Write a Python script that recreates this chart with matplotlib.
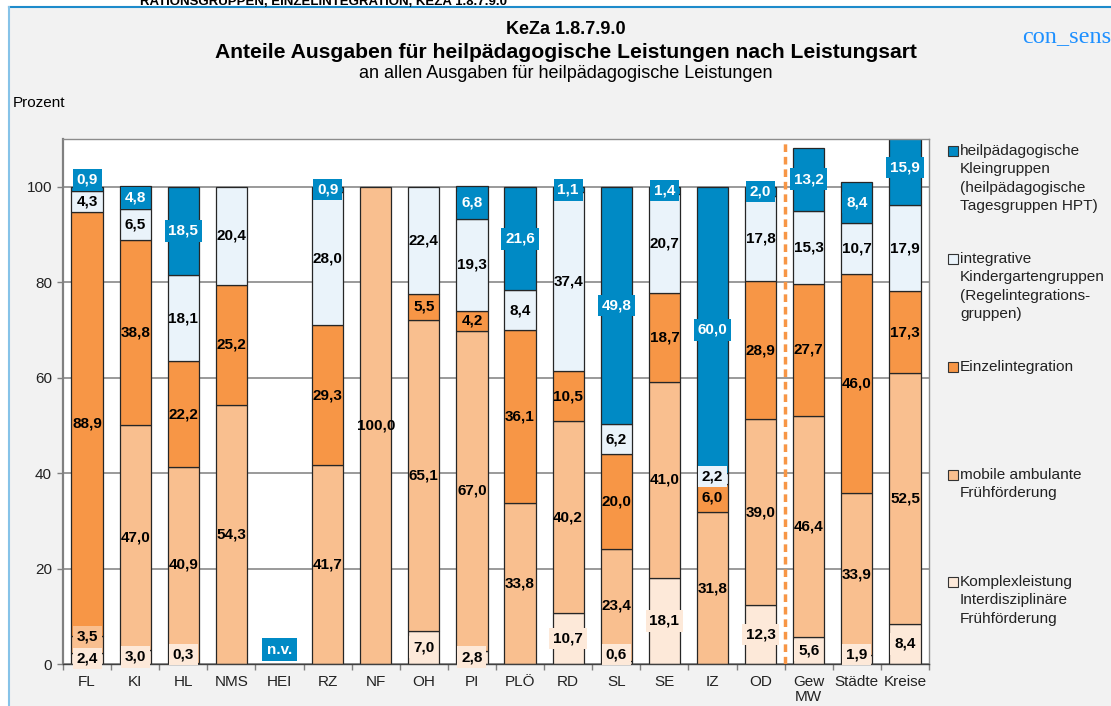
import matplotlib
matplotlib.use('Agg')
import matplotlib.pyplot as plt
from matplotlib.patches import Rectangle
from matplotlib.lines import Line2D
import numpy as np

plt.rcParams['font.family'] = ['Liberation Sans', 'DejaVu Sans']

categories = ['FL', 'KI', 'HL', 'NMS', 'HEI', 'RZ', 'NF', 'OH', 'PI', 'PLÖ', 'RD',
              'SL', 'SE', 'IZ', 'OD', 'Gew\nMW', 'Städte', 'Kreise']
komplex = [2.4, 3.0, 0.3, 0, 0, 0, 0, 7.0, 2.8, 0, 10.7, 0.6, 18.1, 0, 12.3, 5.6, 1.9, 8.4]
mobile = [3.5, 47.0, 40.9, 54.3, 0, 41.7, 100.0, 65.1, 67.0, 33.8, 40.2, 23.4, 41.0, 31.8, 39.0, 46.4, 33.9, 52.5]
einzel = [88.9, 38.8, 22.2, 25.2, 0, 29.3, 0, 5.5, 4.2, 36.1, 10.5, 20.0, 18.7, 6.0, 28.9, 27.7, 46.0, 17.3]
integrativ = [4.3, 6.5, 18.1, 20.4, 0, 28.0, 0, 22.4, 19.3, 8.4, 37.4, 6.2, 20.7, 2.2, 17.8, 15.3, 10.7, 17.9]
kleingruppen = [0.9, 4.8, 18.5, 0, 0, 0.9, 0, 0, 6.8, 21.6, 1.1, 49.8, 1.4, 60.0, 2.0, 13.2, 8.4, 15.9]
not_available = ['HEI']
series_names = ['Komplexleistung\nInterdisziplinäre\nFrühförderung',
                'mobile ambulante\nFrühförderung',
                'Einzelintegration',
                'integrative\nKindergartengruppen\n(Regelintegrations-\ngruppen)',
                'heilpädagogische\nKleingruppen\n(heilpädagogische\nTagesgruppen HPT)']
y_ticks = [0, 20, 40, 60, 80, 100]

series = [komplex, mobile, einzel, integrativ, kleingruppen]
colors = ['#FDE9D9', '#F9BF8F', '#F79646', '#EAF3FA', '#008AC5']
text_colors = ['black', 'black', 'black', 'black', 'white']
boxed = [True, False, False, False, True]

W, H = 1111, 706
fig = plt.figure(figsize=(W / 100, H / 100), dpi=100, facecolor='white')

# panel background and border
fig.patches.append(Rectangle((9 / W, 0), 1 - 9 / W, 1 - 7 / H, transform=fig.transFigure,
                             facecolor='#F2F2F2', edgecolor='none', zorder=-10))
fig.add_artist(Line2D([9 / W, 1], [1 - 7 / H, 1 - 7 / H], transform=fig.transFigure,
                      color='#1E8BCB', lw=1.5, zorder=-5))
fig.add_artist(Line2D([9 / W, 9 / W], [0, 1 - 7 / H], transform=fig.transFigure,
                      color='#86C3E8', lw=1.5, zorder=-5))

fig.text(140 / W, 1 - 5 / H, 'RATIONSGRUPPEN, EINZELINTEGRATION, KEZA 1.8.7.9.0',
         fontsize=9.5, weight='bold', ha='left', va='baseline')

left, right, top, bottom = 63, 929, 139, 664
ax = fig.add_axes([left / W, (H - bottom) / H, (right - left) / W, (bottom - top) / H])
ax.set_facecolor('white')

x = np.arange(len(categories))
bw = 0.65
bottoms = np.zeros(len(categories))
label_info = [[] for _ in categories]
for s, vals in enumerate(series):
    vals = np.array(vals, dtype=float)
    mask = vals > 0
    ax.bar(x[mask], vals[mask], bottom=bottoms[mask], width=bw, color=colors[s],
           edgecolor='#262626', linewidth=0.9, zorder=2)
    for i in np.where(mask)[0]:
        label_info[i].append((bottoms[i], vals[i], s))
    bottoms = bottoms + vals

min_gap = 4.5
for i, items in enumerate(label_info):
    ys = []
    moved = []
    for (b, v, s) in items:
        yc = b + v / 2
        mv = False
        if b == 0 and v < 2:
            yc = 2.0
        if ys and yc - ys[-1] < min_gap:
            yc = ys[-1] + min_gap
            mv = True
        ys.append(yc)
        moved.append(mv)
    for (b, v, s), yc, mv in zip(items, ys, moved):
        kw = {}
        if boxed[s] or mv:
            kw['bbox'] = dict(boxstyle='square,pad=0.25', fc=colors[s], ec='none')
        ax.text(x[i], yc, f'{v:.1f}'.replace('.', ','), ha='center', va='center',
                fontsize=11, weight='bold', color=text_colors[s], zorder=5, **kw)

for name in not_available:
    i = categories.index(name)
    ax.text(x[i], 3.0, 'n.v.', ha='center', va='center', fontsize=11, weight='bold',
            color='white', zorder=5,
            bbox=dict(boxstyle='square,pad=0.3', fc=colors[4], ec='none'))

ax.axvline(14.5, color='#F79646', lw=2.5, ls=(0, (2.2, 1.4)), zorder=3)

ax.set_xlim(-0.5, len(categories) - 0.5)
ax.set_ylim(0, 110)
ax.set_yticks(y_ticks)
ax.yaxis.grid(True, color='#7F7F7F', lw=1.1, zorder=1)
ax.set_axisbelow(True)
ax.set_xticks(x)
ax.set_xticklabels(categories, fontsize=11, color='#222222', linespacing=1.1)
ax.set_xticks(np.arange(-0.5, len(categories), 1), minor=True)
ax.tick_params(axis='x', which='major', length=0, pad=8)
ax.tick_params(axis='x', which='minor', length=4, width=1, color='#808080', direction='out')
ax.tick_params(axis='y', length=4, width=1, color='#808080', pad=4, labelsize=11,
               labelcolor='#222222')
for sp in ['top', 'right', 'bottom']:
    ax.spines[sp].set_color('#8C8C8C')
    ax.spines[sp].set_linewidth(1.0)
ax.spines['left'].set_color('#808080')
ax.spines['left'].set_linewidth(1.6)
ax.spines['bottom'].set_color('#404040')

# titles
cx = 566 / W
fig.text(cx, 1 - 30 / H, 'KeZa 1.8.7.9.0', ha='center', va='center', fontsize=13, weight='bold')
fig.text(cx, 1 - 52 / H, 'Anteile Ausgaben für heilpädagogische Leistungen nach Leistungsart',
         ha='center', va='center', fontsize=15.2, weight='bold')
fig.text(cx, 1 - 74 / H, 'an allen Ausgaben für heilpädagogische Leistungen',
         ha='center', va='center', fontsize=13)
fig.text(13 / W, 1 - 103 / H, 'Prozent', ha='left', va='center', fontsize=11)
fig.text(1022 / W, 1 - 37 / H, 'con_sens', ha='left', va='center', fontsize=17.5,
         family=['Liberation Serif', 'DejaVu Serif'], color='#1E90FF')

# legend (top to bottom: reversed stacking order)
leg_y = [151, 259, 367, 475, 582]
for k, s in enumerate(reversed(range(len(series)))):
    y0 = leg_y[k]
    fig.patches.append(Rectangle((948 / W, 1 - (y0 + 5) / H), 10 / W, 10 / H,
                                 transform=fig.transFigure, facecolor=colors[s],
                                 edgecolor='#333333', lw=0.8, zorder=3))
    for j, line in enumerate(series_names[s].split('\n')):
        fig.text(960 / W, 1 - (y0 + j * 18.3) / H, line, ha='left', va='center',
                 fontsize=11.1, color='#222222')

fig.savefig('out.png', dpi=100, facecolor=fig.get_facecolor())
